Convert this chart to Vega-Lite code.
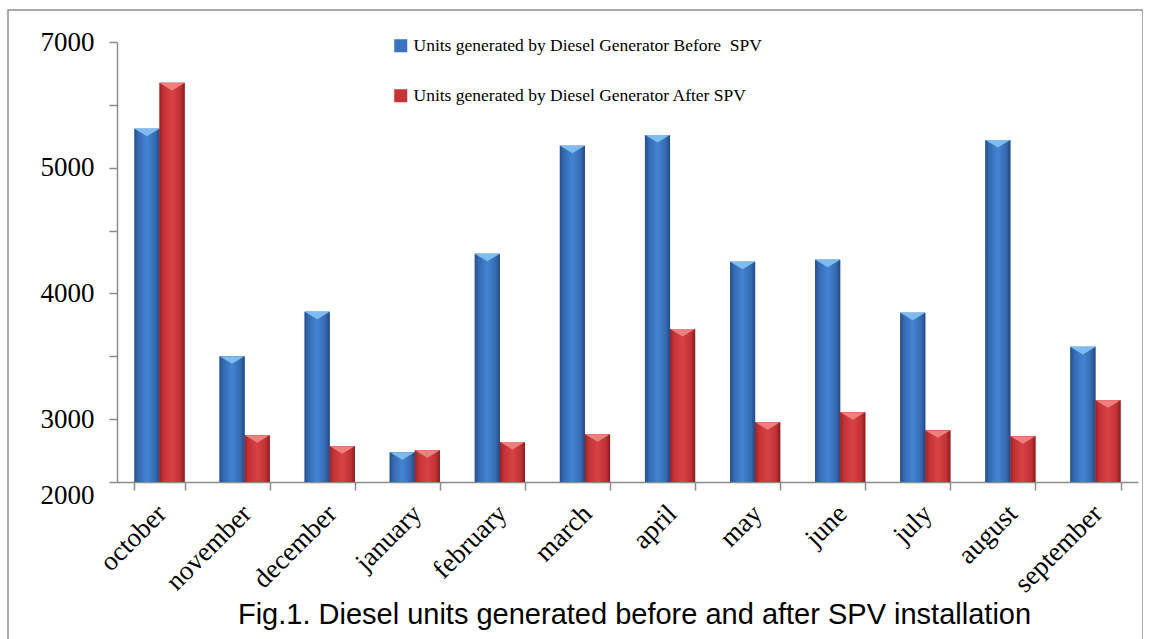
{
  "$schema": "https://vega.github.io/schema/vega-lite/v6.json",
  "width": 1135,
  "height": 640,
  "autosize": {"type": "none"},
  "padding": {"left": 8, "top": 10, "right": 0, "bottom": 0},
  "background": "white",
  "config": {"view": {"stroke": "#8f8f8f", "strokeWidth": 1.5}},
  "title": {
    "text": "Fig.1. Diesel units generated before and after SPV installation",
    "orient": "bottom",
    "anchor": "middle",
    "frame": "group",
    "font": "Liberation Sans",
    "fontSize": 29,
    "fontWeight": "normal",
    "color": "#000000",
    "baseline": "alphabetic",
    "offset": -26,
    "dx": 59
  },
  "data": {
    "values": [
      {"month": "october", "series": "Units generated by Diesel Generator Before\u00a0 SPV", "value": 5310},
      {"month": "october", "series": "Units generated by Diesel Generator After SPV", "value": 5675},
      {"month": "november", "series": "Units generated by Diesel Generator Before\u00a0 SPV", "value": 3500},
      {"month": "november", "series": "Units generated by Diesel Generator After SPV", "value": 2872},
      {"month": "december", "series": "Units generated by Diesel Generator Before\u00a0 SPV", "value": 3855},
      {"month": "december", "series": "Units generated by Diesel Generator After SPV", "value": 2785},
      {"month": "january", "series": "Units generated by Diesel Generator Before\u00a0 SPV", "value": 2737},
      {"month": "january", "series": "Units generated by Diesel Generator After SPV", "value": 2752},
      {"month": "february", "series": "Units generated by Diesel Generator Before\u00a0 SPV", "value": 4315},
      {"month": "february", "series": "Units generated by Diesel Generator After SPV", "value": 2818},
      {"month": "march", "series": "Units generated by Diesel Generator Before\u00a0 SPV", "value": 5175},
      {"month": "march", "series": "Units generated by Diesel Generator After SPV", "value": 2880},
      {"month": "april", "series": "Units generated by Diesel Generator Before\u00a0 SPV", "value": 5260},
      {"month": "april", "series": "Units generated by Diesel Generator After SPV", "value": 3717},
      {"month": "may", "series": "Units generated by Diesel Generator Before\u00a0 SPV", "value": 4252},
      {"month": "may", "series": "Units generated by Diesel Generator After SPV", "value": 2975},
      {"month": "june", "series": "Units generated by Diesel Generator Before\u00a0 SPV", "value": 4268},
      {"month": "june", "series": "Units generated by Diesel Generator After SPV", "value": 3055},
      {"month": "july", "series": "Units generated by Diesel Generator Before\u00a0 SPV", "value": 3847},
      {"month": "july", "series": "Units generated by Diesel Generator After SPV", "value": 2911},
      {"month": "august", "series": "Units generated by Diesel Generator Before\u00a0 SPV", "value": 5220},
      {"month": "august", "series": "Units generated by Diesel Generator After SPV", "value": 2865},
      {"month": "september", "series": "Units generated by Diesel Generator Before\u00a0 SPV", "value": 3575},
      {"month": "september", "series": "Units generated by Diesel Generator After SPV", "value": 3150}
    ]
  },
  "encoding": {
    "x": {
      "field": "month",
      "type": "nominal",
      "sort": ["october", "november", "december", "january", "february", "march", "april", "may", "june", "july", "august", "september"],
      "scale": {"range": [109, 1130], "paddingInner": 0.41, "paddingOuter": 0.205},
      "axis": {
        "orient": "bottom",
        "offset": -168,
        "title": null,
        "grid": false,
        "tickBand": "extent",
        "labelAngle": -45,
        "labelFont": "Liberation Serif",
        "labelFontSize": 27,
        "labelColor": "#000000",
        "labelPadding": 10,
        "labelOffset": -7,
        "labelOverlap": false,
        "domainColor": "#8c8c8c",
        "domainWidth": 1.5,
        "tickColor": "#8c8c8c",
        "tickWidth": 1.5,
        "tickSize": 8
      }
    },
    "xOffset": {
      "field": "series",
      "type": "nominal",
      "sort": ["Units generated by Diesel Generator Before\u00a0 SPV", "Units generated by Diesel Generator After SPV"]
    },
    "y": {
      "field": "value",
      "type": "quantitative",
      "scale": {"domain": [2500, 6000], "range": [472, 32], "nice": false, "zero": false},
      "axis": {
        "orient": "left",
        "offset": -109,
        "title": null,
        "grid": false,
        "values": [2500, 3000, 3500, 4000, 4500, 5000, 5500, 6000],
        "labelExpr": "datum.value == 6000 ? '7000' : (datum.value == 2500 ? '2000' : (datum.value % 1000 == 0 ? toString(datum.value) : ''))",
        "labelFont": "Liberation Serif",
        "labelFontSize": 27,
        "labelColor": "#000000",
        "labelPadding": 15,
        "labelOverlap": false,
        "labelBaseline": {"condition": {"test": "datum.value == 2500", "value": "top"}, "value": "middle"},
        "domainColor": "#8c8c8c",
        "domainWidth": 1.5,
        "tickColor": "#8c8c8c",
        "tickWidth": 1.5,
        "tickSize": 8
      }
    },
    "y2": {"datum": 2500}
  },
  "layer": [
    {
      "mark": {"type": "bar"},
      "encoding": {
        "color": {
          "field": "series",
          "type": "nominal",
          "scale": {
            "domain": ["Units generated by Diesel Generator Before\u00a0 SPV", "Units generated by Diesel Generator After SPV"],
            "range": ["#3a74c0", "#c63436"]
          },
          "legend": {
            "orient": "none",
            "legendX": 384,
            "legendY": 27,
            "title": null,
            "padding": 0,
            "labelFont": "Liberation Serif",
            "labelFontSize": 17.5,
            "labelColor": "#000000",
            "labelLimit": 800,
            "labelOffset": 4,
            "symbolType": "square",
            "symbolSize": 170,
            "symbolStrokeWidth": 0,
            "rowPadding": 31
          }
        }
      }
    },
    {
      "transform": [{"filter": "datum.series === 'Units generated by Diesel Generator Before\u00a0 SPV'"}],
      "mark": {
        "type": "bar",
        "color": {
          "gradient": "linear",
          "x1": 0, "x2": 1, "y1": 0, "y2": 0,
          "stops": [
            {"offset": 0, "color": "#264f8a"},
            {"offset": 0.15, "color": "#3569b0"},
            {"offset": 0.5, "color": "#4384d4"},
            {"offset": 0.85, "color": "#3568ae"},
            {"offset": 1, "color": "#21477e"}
          ]
        }
      }
    },
    {
      "transform": [{"filter": "datum.series === 'Units generated by Diesel Generator After SPV'"}],
      "mark": {
        "type": "bar",
        "color": {
          "gradient": "linear",
          "x1": 0, "x2": 1, "y1": 0, "y2": 0,
          "stops": [
            {"offset": 0, "color": "#9a2225"},
            {"offset": 0.15, "color": "#c23236"},
            {"offset": 0.5, "color": "#d94244"},
            {"offset": 0.85, "color": "#bf3034"},
            {"offset": 1, "color": "#861b1e"}
          ]
        }
      }
    },
    {
      "mark": {
        "type": "point",
        "shape": "M-1,-1L1,-1L0,-0.4Z",
        "filled": true,
        "opacity": 1,
        "size": 620,
        "yOffset": 12.5,
        "strokeWidth": 0
      },
      "encoding": {
        "y2": null,
        "fill": {
          "condition": {"test": "datum.series === 'Units generated by Diesel Generator Before\u00a0 SPV'", "value": "#7cbcef"},
          "value": "#ef7e7e"
        }
      }
    }
  ]
}
